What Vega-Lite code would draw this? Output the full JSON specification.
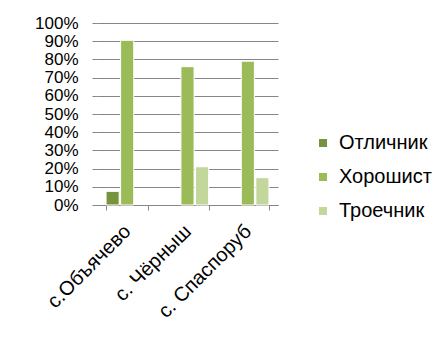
{
  "$schema": "https://vega.github.io/schema/vega-lite/v6.json",
  "autosize": {"type": "none"},
  "width": 181,
  "height": 182,
  "padding": {"left": 97, "top": 23, "right": 167, "bottom": 149},
  "background": "white",
  "config": {
    "font": "Liberation Sans",
    "view": {"stroke": null}
  },
  "data": {
    "values": [
      {"village": "с.Объячево", "grade": "Отличник", "share": 0.075},
      {"village": "с.Объячево", "grade": "Хорошист", "share": 0.905},
      {"village": "с. Чёрныш", "grade": "Хорошист", "share": 0.76},
      {"village": "с. Чёрныш", "grade": "Троечник", "share": 0.21},
      {"village": "с. Спаспоруб", "grade": "Хорошист", "share": 0.79},
      {"village": "с. Спаспоруб", "grade": "Троечник", "share": 0.15}
    ]
  },
  "mark": {"type": "bar", "stroke": "white", "strokeWidth": 1},
  "encoding": {
    "x": {
      "field": "village",
      "type": "nominal",
      "sort": ["с.Объячево", "с. Чёрныш", "с. Спаспоруб"],
      "scale": {"paddingInner": 0.3, "paddingOuter": 0.15},
      "axis": {
        "title": null,
        "labelAngle": -45,
        "labelAlign": "right",
        "labelBaseline": "middle",
        "labelFontSize": 20,
        "labelColor": "black",
        "labelPadding": 18,
        "labelDx": 3,
        "labelOverlap": false,
        "tickBand": "extent",
        "tickSize": 5,
        "tickColor": "#868686",
        "domainColor": "#868686",
        "grid": false
      }
    },
    "xOffset": {
      "field": "grade",
      "type": "nominal",
      "sort": ["Отличник", "Хорошист", "Троечник"],
      "scale": {"paddingInner": 0.1}
    },
    "y": {
      "field": "share",
      "type": "quantitative",
      "scale": {"domain": [0, 1]},
      "axis": {
        "title": null,
        "values": [0, 0.1, 0.2, 0.3, 0.4, 0.5, 0.6, 0.7, 0.8, 0.9, 1],
        "format": ".0%",
        "labelFontSize": 17,
        "labelColor": "black",
        "labelPadding": 14,
        "labelOverlap": false,
        "labelFlush": false,
        "labelBound": false,
        "tickSize": 5,
        "tickColor": "#868686",
        "gridColor": "#868686",
        "domain": false
      }
    },
    "color": {
      "field": "grade",
      "type": "nominal",
      "sort": ["Отличник", "Хорошист", "Троечник"],
      "scale": {
        "domain": ["Отличник", "Хорошист", "Троечник"],
        "range": ["#77933C", "#9BBB59", "#C3D69B"]
      },
      "legend": {
        "title": null,
        "orient": "none",
        "legendX": 216,
        "legendY": 110,
        "symbolType": "square",
        "symbolSize": 64,
        "symbolStrokeWidth": 0,
        "labelFontSize": 20,
        "labelColor": "black",
        "labelOffset": 6,
        "rowPadding": 14
      }
    }
  }
}
